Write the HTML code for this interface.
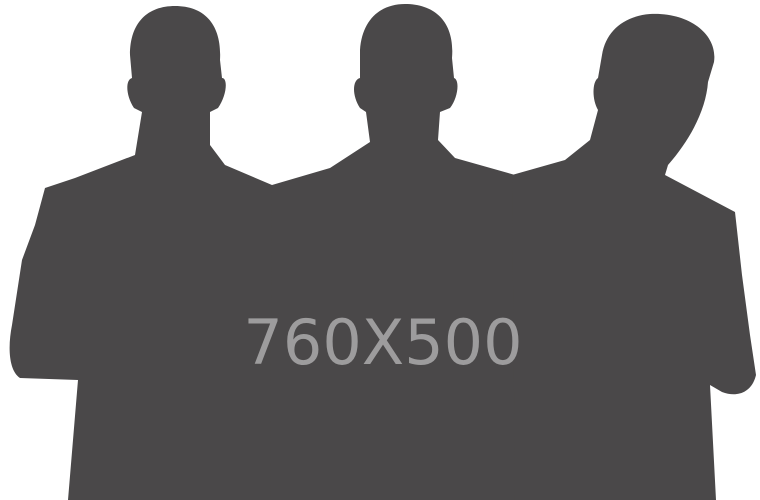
<!DOCTYPE html>
<html><head><meta charset="utf-8"><style>
html,body{margin:0;padding:0;background:#fff;width:760px;height:500px;overflow:hidden}
svg{display:block}
</style></head><body>
<svg width="760" height="500" viewBox="0 0 760 500">
<g fill="#4a4849">
<path d="M175,6 C205,6 222,25 220,60 L222,78 C228,78 227,95 218,108 L210,112 L210,145 L225,165 L272,185 L280,500 L68,500 L78,380 L20,378 C8,370 8,345 12,325 L22,260 L35,225 L45,188 L75,178 L135,155 L142,112 L134,108 C126,96 125,80 132,78 L130,55 C130,22 148,6 175,6 Z"/>
<path d="M405,4 C435,4 455,22 452,58 L454,78 C460,80 458,98 450,108 L440,112 L438,140 L455,158 L515,175 L520,500 L270,500 L272,185 L330,168 L370,142 L366,112 L360,108 C352,96 352,80 360,78 L360,50 C362,20 380,4 405,4 Z"/>
<path d="M650,14 C690,12 718,35 714,62 L708,82 C706,110 690,140 668,165 L665,175 L735,212 L742,275 L750,335 L756,375 C752,392 738,398 722,392 L710,385 L716,500 L515,500 L512,175 L565,160 L590,140 L598,110 C592,100 592,82 598,78 L602,55 C606,30 625,16 650,14 Z"/>
</g>
<text x="383" y="364" text-anchor="middle" font-family="'DejaVu Sans','Liberation Sans',sans-serif" font-size="62" fill="#9d9c9d">760X500</text>
</svg>
</body></html>
